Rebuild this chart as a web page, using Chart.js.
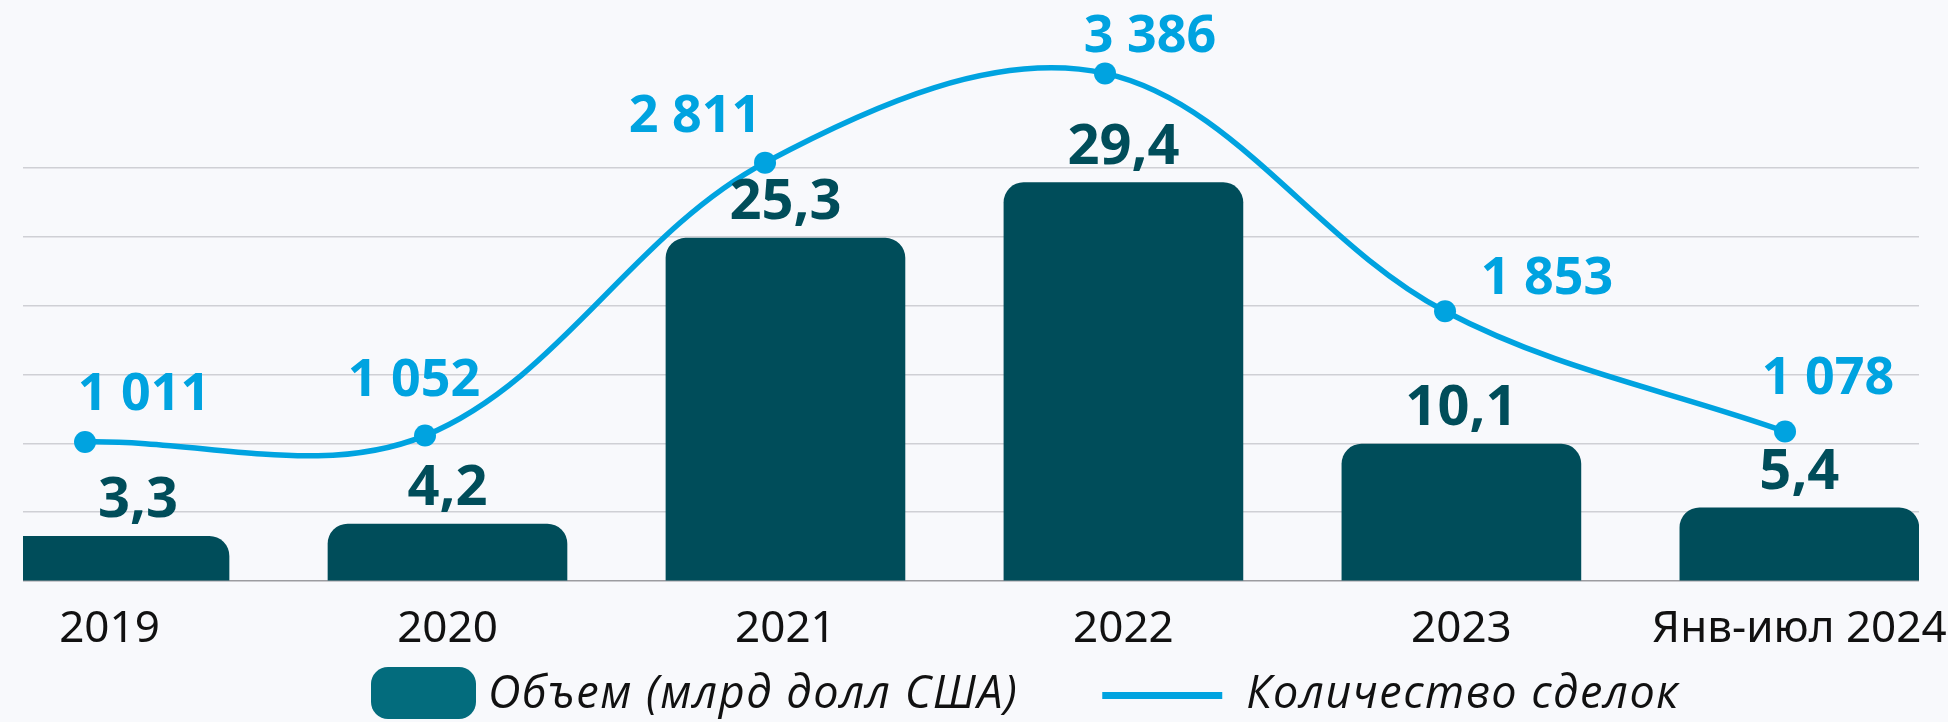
<!DOCTYPE html>
<html>
<head>
<meta charset="utf-8">
<script src="https://cdn.jsdelivr.net/npm/chart.js@4"></script>
<style>
  html, body { margin: 0; padding: 0; background: #f8f9fc; }
  #wrap { width: 1948px; height: 722px; position: relative; }
</style>
</head>
<body>
<div id="wrap"><canvas id="chart"></canvas></div>
<script>
var years = ['2019', '2020', '2021', '2022', '2023', 'Янв-июл 2024'];
var volume = [3.3, 4.2, 25.3, 29.4, 10.1, 5.4];
var deals = [1011, 1052, 2811, 3386, 1853, 1078];
var volumeLabel = 'Объем (млрд долл США)';
var dealsLabel = 'Количество сделок';

// the blue labels don't sit right above their points, so nudge them
var dealsLabelDx = [59, -11, -70, 45, 102, 43];
var dealsLabelDy = [32, 40, 31, 21, 17, 38];

var barColor = '#004d5a';
var legendBoxColor = '#036c7d';
var lineColor = '#00a3e0';

function fmtVolume(v) {
	return v.toFixed(1).replace('.', ',');
}

function fmtDeals(v) {
	return String(v).replace(/\B(?=(\d{3})+(?!\d))/g, ' ');
}

var valueLabels = {
	id: 'valueLabels',
	afterDatasetsDraw: function (chart) {
		var ctx = chart.ctx;
		var area = chart.chartArea;
		ctx.save();
		ctx.textAlign = 'center';
		ctx.textBaseline = 'alphabetic';

		ctx.font = 'bold 56px "Noto Sans"';
		ctx.fillStyle = barColor;
		chart.getDatasetMeta(0).data.forEach(function (bar, i) {
			// center on the visible part of the bar (first one is cut by the edge)
			var left = Math.max(bar.x - bar.width / 2, area.left);
			var right = Math.min(bar.x + bar.width / 2, area.right);
			ctx.fillText(fmtVolume(volume[i]), (left + right) / 2 + (left > bar.x - bar.width / 2 ? 12 : 0), bar.y - 19);
		});

		ctx.font = 'bold 52px "Noto Sans"';
		ctx.fillStyle = lineColor;
		chart.getDatasetMeta(1).data.forEach(function (pt, i) {
			ctx.fillText(fmtDeals(deals[i]), pt.x + dealsLabelDx[i], pt.y - dealsLabelDy[i]);
		});
		ctx.restore();
	}
};

var legendRow = {
	id: 'legendRow',
	afterDraw: function (chart) {
		var ctx = chart.ctx;
		var sets = chart.data.datasets;
		var y = 693;
		var x = 371;
		ctx.save();
		ctx.font = 'italic 45px "Open Sans"';
		ctx.letterSpacing = '1.5px';
		ctx.textBaseline = 'alphabetic';
		ctx.textAlign = 'left';

		ctx.fillStyle = legendBoxColor;
		ctx.beginPath();
		ctx.roundRect(x, y - 26, 105, 52, 17);
		ctx.fill();
		x += 105 + 12;
		ctx.fillStyle = '#111';
		var w1 = Math.min(ctx.measureText(sets[0].label).width, 531);
		ctx.fillText(sets[0].label, x, y + 15, 531);
		x += w1 + 84;

		ctx.strokeStyle = lineColor;
		ctx.lineWidth = 7;
		ctx.beginPath();
		ctx.moveTo(x, y + 2.5);
		ctx.lineTo(x + 120, y + 2.5);
		ctx.stroke();
		x += 120 + 24;
		ctx.fillText(sets[1].label, x, y + 15, 433);
		ctx.restore();
	}
};

new Chart(document.getElementById('chart'), {
	type: 'bar',
	data: {
		datasets: [
			{
				type: 'bar',
				label: volumeLabel,
				data: volume.map(function (v, i) { return { x: i, y: v }; }),
				backgroundColor: barColor,
				borderRadius: 20,
				borderSkipped: 'bottom',
				barThickness: 239,
				grouped: false,
				xAxisID: 'x',
				yAxisID: 'y',
				order: 2,
				clip: 0
			},
			{
				type: 'line',
				label: dealsLabel,
				data: deals.map(function (v, i) { return { x: i, y: v }; }),
				borderColor: lineColor,
				backgroundColor: lineColor,
				borderWidth: 5.5,
				tension: 0.35,
				pointRadius: 11,
				pointBorderWidth: 0,
				pointBackgroundColor: lineColor,
				xAxisID: 'x2',
				yAxisID: 'y1',
				order: 1,
				clip: false
			}
		]
	},
	options: {
		responsive: true,
		maintainAspectRatio: false,
		animation: false,
		layout: { autoPadding: false, padding: { left: 23, right: 29, top: 0, bottom: 61 } },
		plugins: {
			legend: { display: false },
			tooltip: { enabled: false }
		},
		scales: {
			x: {
				type: 'linear',
				offset: false,
				min: -0.256,
				max: 5.354,
				grid: { display: false, offset: false },
				border: { display: false },
				ticks: {
					stepSize: 1,
					includeBounds: false,
					autoSkip: false,
					maxRotation: 0,
					padding: 14,
					color: '#111',
					font: { family: 'Noto Sans', size: 44 },
					callback: function (v) { return years[v] !== undefined ? years[v] : ''; }
				},
				afterFit: function (axis) {
					axis.paddingLeft = 0;
					axis.paddingRight = 0;
					axis.height = 80;
				}
			},
			x2: { type: 'linear', display: false, offset: false, min: -0.1824, max: 5.394 },
			y: {
				min: 0,
				max: 42.88,
				grid: {
					color: function (c) { return c.tick.value === 0 ? '#9c9ca0' : '#cfd0d5'; },
					lineWidth: 1.5,
					drawTicks: false
				},
				border: { display: false },
				ticks: { display: false, stepSize: 5.08 },
				afterBuildTicks: function (axis) {
					axis.ticks = axis.ticks.filter(function (t) { return t.value < 31; });
				}
			},
			y1: { display: false, min: 115, max: 3859 }
		}
	},
	plugins: [valueLabels, legendRow]
});
</script>
</body>
</html>
